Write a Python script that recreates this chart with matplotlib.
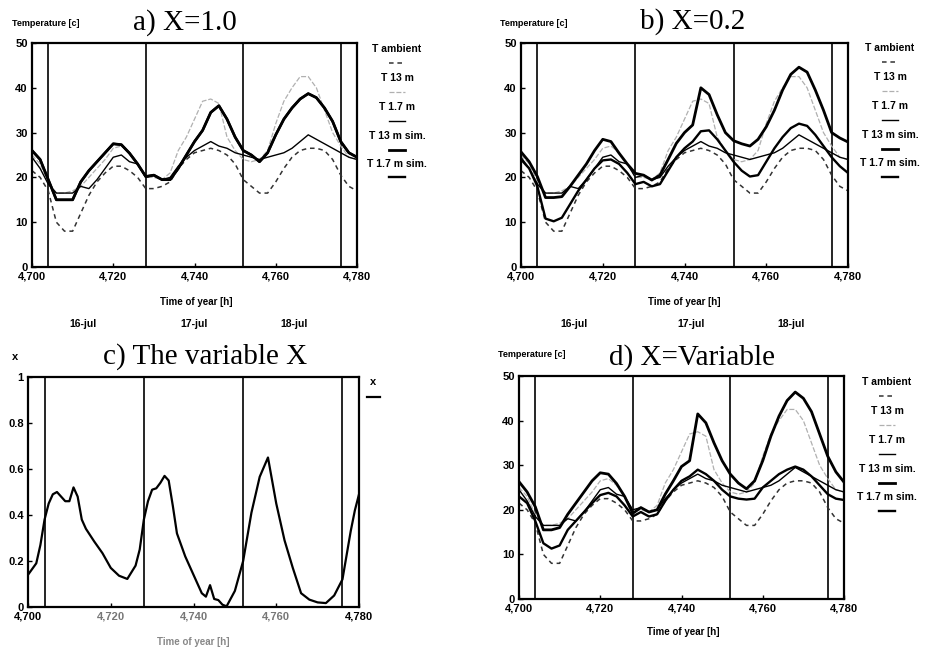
import matplotlib
matplotlib.use('Agg')
import matplotlib.pyplot as plt
from matplotlib.lines import Line2D
from matplotlib.ticker import FuncFormatter
import numpy as np

plt.rcParams['font.family'] = ['Liberation Sans', 'DejaVu Sans']

W, H = 929, 650

# time axis of the temperature series (every 2 h)
hours = np.arange(4700, 4781, 2)
midnights = [4704, 4728, 4752, 4776]

# measured series (same in all temperature panels)
t_ambient = [21.5, 20, 17, 10, 8, 8, 12, 16, 19, 21, 22.5, 22.5, 21.5, 20, 17.5, 17.5, 18, 19, 22, 24,
             25.5, 26, 26.5, 26, 25, 23, 19.5, 18, 16.5, 16.5, 19, 22, 24.5, 26, 26.5, 26.5, 26, 24, 20.5, 18, 17]
t_13m = [25, 23, 19, 16.5, 16.5, 17, 18, 20, 22, 24, 26.5, 27, 25.5, 23, 20, 20, 19.5, 21, 26, 29,
         33, 37, 37.5, 36.5, 29, 26, 24, 23.5, 24, 26, 32, 37, 40, 42.5, 42.5, 40, 35, 30, 27, 24.5, 24]
t_17m = [24.5, 22, 18.5, 16.5, 16.5, 16.5, 18, 17.5, 19.5, 22, 24.5, 25, 23.5, 23, 20, 20.5, 19.5, 20, 22.5, 24.5,
         26, 27, 28, 27, 26.5, 25.5, 25, 24.5, 24, 24.5, 25, 25.5, 26.5, 28, 29.5, 28.5, 27.5, 26.5, 25.5, 24.5, 24]

# a) X=1.0 : both simulated heights coincide
a_sim = [26, 24, 19.5, 15, 15, 15, 19, 21.5, 23.5, 25.5, 27.5, 27.3, 25.4, 23, 20.2, 20.5, 19.5, 19.5, 22, 25,
         28, 30.5, 34.5, 36, 33, 29, 26, 25, 23.5, 25.5, 29.5, 33, 35.5, 37.5, 38.7, 37.8, 35.5, 32.5, 28, 25.5, 24.5]

# b) X=0.2
b_sim13 = [25.7, 23.5, 20.2, 15.5, 15.5, 15.7, 18, 20.5, 23, 26, 28.5, 28, 25.4, 23, 20.9, 20.5, 19.4, 20.5, 24, 27.6,
           30, 31.7, 40, 38.5, 34, 30, 28.2, 27.5, 27, 28.5, 31.3, 35, 39.5, 43, 44.6, 43.5, 39.5, 35, 30, 28.8, 27.9]
b_sim17 = [24, 22, 18, 10.8, 10.2, 11, 14, 17, 19.5, 22, 23.8, 24, 23, 21, 18.5, 19, 18, 18.5, 21.5, 24.5,
           26.5, 28, 30.3, 30.5, 28.5, 26, 23.5, 21.5, 20.2, 20.5, 23.5, 26.5, 29, 31, 32, 31.5, 29.5, 27, 24.5, 22.5, 21]

# d) X=Variable
d_sim13 = [26.3, 24, 20.7, 15.5, 15.5, 16, 19, 21.5, 24, 26.5, 28.3, 28, 25.9, 23, 19.2, 20.5, 19.5, 20, 23.5, 26.5,
           29.7, 31, 41.5, 39.5, 35, 31, 28, 26, 24.7, 26.5, 31, 36.5, 41, 44.5, 46.4, 45, 42, 37, 32, 28.5, 26.2]
d_sim17 = [23, 21.5, 17.5, 12.5, 11.3, 12, 15.5, 17.5, 19.5, 21.5, 23.3, 23.8, 23, 21, 18.5, 19.5, 18.5, 19, 22, 24.5,
           26.5, 27.5, 29, 28, 26.5, 24.5, 23, 22.5, 22.3, 22.5, 25, 26.5, 28, 29, 29.7, 29, 27.5, 25.5, 23.5, 22.5, 22.2]

# c) the variable X
c_hours = [4700, 4702, 4703, 4704, 4705, 4706, 4707, 4708, 4709, 4710, 4711, 4712, 4713, 4714, 4716, 4718, 4720,
           4722, 4724, 4726, 4727, 4728, 4729, 4730, 4731, 4732, 4733, 4734, 4735, 4736, 4738, 4740, 4742, 4743,
           4744, 4745, 4746, 4747, 4748, 4750, 4752, 4754, 4756, 4758, 4760, 4762, 4764, 4766, 4768, 4770, 4772,
           4774, 4776, 4778, 4779, 4780]
c_x = [0.14, 0.19, 0.27, 0.38, 0.45, 0.49, 0.50, 0.48, 0.46, 0.46, 0.52, 0.48, 0.38, 0.34, 0.285, 0.234, 0.17,
       0.136, 0.122, 0.18, 0.25, 0.38, 0.46, 0.51, 0.516, 0.54, 0.57, 0.55, 0.44, 0.32, 0.22, 0.14, 0.06, 0.045,
       0.095, 0.035, 0.03, 0.01, 0.003, 0.07, 0.2, 0.41, 0.566, 0.65, 0.45, 0.29, 0.17, 0.06, 0.032, 0.02, 0.017,
       0.05, 0.12, 0.33, 0.42, 0.49]

titles = ['a) X=1.0', 'b) X=0.2', 'c) The variable X', 'd) X=Variable']
legend_labels = ['T ambient', 'T 13 m', 'T 1.7 m', 'T 13 m sim.', 'T 1.7 m sim.']
legend_keys = ['amb', 't13', 't17', 'sim13', 'sim17']
day_labels = ['16-jul', '17-jul', '18-jul']

styles = {
    'amb': dict(color='#333333', linewidth=1.1, linestyle=(0, (3, 2.5))),
    't13': dict(color='#b0b0b0', linewidth=0.9, linestyle=(0, (4, 1.5))),
    't17': dict(color='black', linewidth=1.0),
    'sim13': dict(color='black', linewidth=2.0),
    'sim17': dict(color='black', linewidth=1.7),
    'x': dict(color='black', linewidth=1.6),
}

fig = plt.figure(figsize=(W / 100, H / 100), dpi=100)


def box(l, t, r, b):
    return [l / W, 1 - b / H, (r - l) / W, (b - t) / H]


def ftext(px, py, s, **kw):
    fig.text(px / W, 1 - py / H, s, **kw)


def setup(ax, ymax, yticks, ylabels):
    ax.set_xlim(4700, 4780)
    ax.set_ylim(0, ymax)
    ax.set_xticks([4700, 4720, 4740, 4760, 4780])
    ax.xaxis.set_major_formatter(FuncFormatter(lambda v, p: f'{v:,.0f}'))
    ax.set_yticks(yticks)
    ax.set_yticklabels(ylabels)
    ax.tick_params(direction='in', length=3, width=1, labelsize=8, pad=3)
    for lab in ax.get_xticklabels() + ax.get_yticklabels():
        lab.set_fontweight('bold')
    for s in ax.spines.values():
        s.set_linewidth(1.6)
    for m in midnights:
        ax.axvline(m, color='black', lw=1.2)


def legend(cx, ytop, gaps):
    for label, key, dy in zip(legend_labels, legend_keys, gaps):
        ftext(cx, ytop + dy, label, ha='center', va='center', fontsize=7.5, fontweight='bold')
        yl = 1 - (ytop + dy + 13.5) / H
        fig.add_artist(Line2D([(cx - 8) / W, (cx + 8) / W], [yl, yl], **styles[key]))


temp_ticks = [0, 10, 20, 30, 40, 50]
temp_labels = [str(v) for v in temp_ticks]
gaps = [0, 29, 58, 87, 115]

# ---- a)
ax = fig.add_axes(box(32, 43, 357, 267))
setup(ax, 50, temp_ticks, temp_labels)
ax.plot(hours, t_ambient, **styles['amb'])
ax.plot(hours, t_13m, **styles['t13'])
ax.plot(hours, t_17m, **styles['t17'])
ax.plot(hours, a_sim, **styles['sim17'])
ax.plot(hours, a_sim, **styles['sim13'])
for d, hx in zip(day_labels, [4712.5, 4740, 4764.5]):
    ax.text(hx, -0.255, d, transform=ax.get_xaxis_transform(), ha='center', va='center',
            fontsize=7.5, fontweight='bold')
ftext(12, 24, 'Temperature [c]', fontsize=6.5, fontweight='bold', va='center')
ftext(185, 23, titles[0], fontfamily='Liberation Serif', fontsize=21, ha='center', va='center')
ftext(196, 302, 'Time of year [h]', fontsize=7, fontweight='bold', ha='center', va='center')
legend(397, 49, gaps)

# ---- b)
ax = fig.add_axes(box(521, 43, 848, 267))
setup(ax, 50, temp_ticks, temp_labels)
ax.plot(hours, t_ambient, **styles['amb'])
ax.plot(hours, t_13m, **styles['t13'])
ax.plot(hours, t_17m, **styles['t17'])
ax.plot(hours, b_sim17, **styles['sim17'])
ax.plot(hours, b_sim13, **styles['sim13'])
for d, hx in zip(day_labels, [4713, 4741.5, 4766]):
    ax.text(hx, -0.255, d, transform=ax.get_xaxis_transform(), ha='center', va='center',
            fontsize=7.5, fontweight='bold')
ftext(500, 24, 'Temperature [c]', fontsize=6.5, fontweight='bold', va='center')
ftext(693, 22, titles[1], fontfamily='Liberation Serif', fontsize=21, ha='center', va='center')
ftext(684, 302, 'Time of year [h]', fontsize=7, fontweight='bold', ha='center', va='center')
legend(890, 48, gaps)

# ---- c)
ax = fig.add_axes(box(28, 377, 359, 607))
setup(ax, 1, [0, 0.2, 0.4, 0.6, 0.8, 1], ['0', '0.2', '0.4', '0.6', '0.8', '1'])
ax.plot(c_hours, c_x, **styles['x'])
for lab in ax.get_xticklabels()[1:4]:
    lab.set_color('#777777')
ftext(12, 357, 'x', fontsize=8, fontweight='bold', va='center')
ftext(205, 357, titles[2], fontfamily='Liberation Serif', fontsize=21, ha='center', va='center')
ftext(193, 642, 'Time of year [h]', fontsize=7, fontweight='bold', ha='center', va='center',
      color='#888888')
ftext(373, 382, 'x', fontsize=8, fontweight='bold', ha='center', va='center')
fig.add_artist(Line2D([367 / W, 380 / W], [1 - 397 / H] * 2, **styles['x']))

# ---- d)
ax = fig.add_axes(box(519, 376, 844, 599))
setup(ax, 50, temp_ticks, temp_labels)
ax.plot(hours, t_ambient, **styles['amb'])
ax.plot(hours, t_13m, **styles['t13'])
ax.plot(hours, t_17m, **styles['t17'])
ax.plot(hours, d_sim17, **styles['sim17'])
ax.plot(hours, d_sim13, **styles['sim13'])
ftext(498, 355, 'Temperature [c]', fontsize=6.5, fontweight='bold', va='center')
ftext(692, 358, titles[3], fontfamily='Liberation Serif', fontsize=21, ha='center', va='center')
ftext(683, 632, 'Time of year [h]', fontsize=7, fontweight='bold', ha='center', va='center')
legend(887, 382, gaps)

fig.savefig('out.png', dpi=100)
